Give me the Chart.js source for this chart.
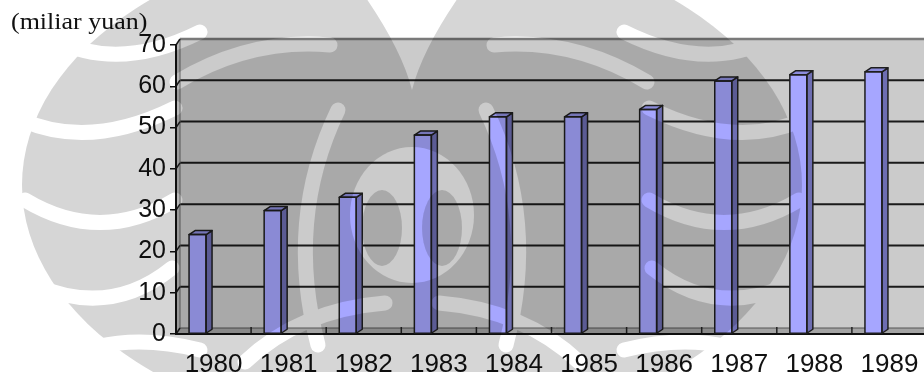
<!DOCTYPE html>
<html>
<head>
<meta charset="utf-8">
<script src="https://cdn.jsdelivr.net/npm/chart.js@4/dist/chart.umd.min.js"></script>
<style>
html,body{margin:0;padding:0;background:#fff;overflow:hidden;}
#wrap{position:relative;width:930px;height:372px;}
</style>
</head>
<body>
<div id="wrap"><canvas id="c"></canvas></div>
<script>
// ---- data ----
const years = ['1980','1981','1982','1983','1984','1985','1986','1987','1988','1989'];
const values = [24.1, 29.9, 33.1, 48.2, 52.6, 52.6, 54.4, 61.3, 62.8, 63.5];
const yTicks = [0, 10, 20, 30, 40, 50, 60, 70];
const unitLabel = '(miliar yuan)';
const spacer = years.map(() => null);

// ---- styling constants ----
const DX = 4, DY = -6;     // back-wall depth offset
const BDX = 6, BDY = -4;   // bar depth offset

function poly(ctx, pts){
  ctx.beginPath();
  ctx.moveTo(pts[0][0], pts[0][1]);
  for (let i = 1; i < pts.length; i++) ctx.lineTo(pts[i][0], pts[i][1]);
  ctx.closePath();
}
function line(ctx, x0, y0, x1, y1){
  ctx.beginPath(); ctx.moveTo(x0, y0); ctx.lineTo(x1, y1); ctx.stroke();
}

const wall3d = {
  id: 'wall3d',
  beforeDraw(chart){
    const {ctx, chartArea:{left:L, right:R, top:T, bottom:B}, scales:{x, y}} = chart;
    const RR = R + 6;
    ctx.save();
    ctx.fillStyle = '#cbcbcb';
    ctx.fillRect(L + DX, T + DY, RR - L - DX, B - T);
    ctx.fillStyle = '#b8b8b8';
    poly(ctx, [[L, T], [L + DX, T + DY], [L + DX, B + DY], [L, B]]); ctx.fill();
    ctx.fillStyle = '#a4a4a4';
    poly(ctx, [[L, B], [L + DX, B + DY], [RR, B + DY], [RR, B]]); ctx.fill();
    yTicks.forEach(v => {
      const py = y.getPixelForValue(v) + DY;
      if (v === yTicks[yTicks.length - 1]) { ctx.strokeStyle = '#7a7a7a'; ctx.lineWidth = 2.5; }
      else if (v === 0) { ctx.strokeStyle = '#555'; ctx.lineWidth = 1; }
      else { ctx.strokeStyle = '#1a1a1a'; ctx.lineWidth = 2; }
      line(ctx, L + DX, py, RR, py);
    });
    ctx.strokeStyle = '#666'; ctx.lineWidth = 1;
    line(ctx, L + DX, T + DY, L + DX, B + DY);
    ctx.strokeStyle = '#1a1a1a'; ctx.lineWidth = 1.5;
    yTicks.forEach(v => {
      const py = y.getPixelForValue(v);
      line(ctx, L, py, L + DX, py + DY);
    });
    ctx.strokeStyle = '#222'; ctx.lineWidth = 1.5;
    for (let i = 1; i < years.length; i++) {
      const bx = (x.getPixelForValue(i - 1) + x.getPixelForValue(i)) / 2;
      line(ctx, bx, B - 7, bx, B);
    }
    ctx.restore();
  },
  afterDatasetsDraw(chart){
    const {ctx} = chart;
    const meta = chart.getDatasetMeta(0);
    ctx.save();
    ctx.strokeStyle = '#1e1e1e';
    ctx.lineWidth = 1.5;
    ctx.lineJoin = 'round';
    meta.data.forEach(bar => {
      const p = bar.getProps(['x', 'y', 'base', 'width'], true);
      const l = p.x - p.width / 2, r = p.x + p.width / 2;
      ctx.fillStyle = '#6e6eb2';
      poly(ctx, [[r, p.y], [r + BDX, p.y + BDY], [r + BDX, p.base + BDY], [r, p.base]]);
      ctx.fill(); ctx.stroke();
      ctx.fillStyle = '#8c8cdc';
      poly(ctx, [[l, p.y], [l + BDX, p.y + BDY], [r + BDX, p.y + BDY], [r, p.y]]);
      ctx.fill(); ctx.stroke();
      ctx.strokeRect(l, p.y, p.width, p.base - p.y);
    });
    ctx.restore();
  },
  afterDraw(chart){
    const {ctx} = chart;
    ctx.save();
    ctx.fillStyle = '#111';
    ctx.font = '23px "Liberation Serif", "Times New Roman", serif';
    ctx.textBaseline = 'alphabetic';
    ctx.translate(11, 29);
    ctx.scale(1.13, 1);
    ctx.fillText(unitLabel, 0, 0);
    ctx.restore();
    // faded emblem watermark
    const wm = document.createElement('canvas');
    wm.width = chart.width; wm.height = chart.height;
    const g = wm.getContext('2d');
    const cx = 412;
    g.fillStyle = '#000';
    g.beginPath(); g.ellipse(cx, 185, 390, 250, 0, 0, Math.PI * 2); g.fill();
    g.globalCompositeOperation = 'destination-out';
    g.lineCap = 'round';
    g.lineWidth = 15;
    const curves = [
      [22, 120, 90, 150, 175, 108],
      [25, 200, 100, 245, 175, 200],
      [35, 285, 110, 318, 172, 268],
      [55, 40, 120, 72, 200, 32],
      [177, 82, 250, 38, 330, 45],
      [245, 362, 300, 310, 385, 303],
      [338, 110, 285, 220, 318, 345],
      [60, 360, 120, 330, 200, 350]
    ];
    curves.forEach(c => {
      g.beginPath(); g.moveTo(c[0], c[1]); g.quadraticCurveTo(c[2], c[3], c[4], c[5]); g.stroke();
      g.beginPath(); g.moveTo(2 * cx - c[0], c[1]); g.quadraticCurveTo(2 * cx - c[2], c[3], 2 * cx - c[4], c[5]); g.stroke();
    });
    g.beginPath();
    g.moveTo(cx - 48, -5); g.quadraticCurveTo(cx - 10, 50, cx, 90);
    g.quadraticCurveTo(cx + 10, 50, cx + 48, -5); g.closePath(); g.fill();
    g.beginPath(); g.ellipse(cx, 215, 62, 68, 0, 0, Math.PI * 2); g.fill();
    g.globalCompositeOperation = 'source-over';
    g.beginPath(); g.ellipse(cx - 30, 228, 20, 38, 0, 0, Math.PI * 2); g.fill();
    g.beginPath(); g.ellipse(cx + 30, 228, 20, 38, 0, 0, Math.PI * 2); g.fill();
    ctx.save();
    ctx.globalAlpha = 0.16;
    ctx.drawImage(wm, 0, 0);
    ctx.restore();
  }
};

new Chart(document.getElementById('c'), {
  type: 'bar',
  data: {
    labels: years,
    datasets: [
      { data: values, backgroundColor: '#a6a6ff', borderWidth: 0,
        categoryPercentage: 0.852, barPercentage: 0.531 },
      { data: spacer, backgroundColor: 'rgba(0,0,0,0)', borderWidth: 0,
        categoryPercentage: 0.852, barPercentage: 0.531 }
    ]
  },
  options: {
    responsive: true,
    maintainAspectRatio: false,
    animation: false,
    devicePixelRatio: 1,
    layout: { padding: { top: 45, right: 3, bottom: 0, left: 0 } },
    plugins: { legend: { display: false }, tooltip: { enabled: false }, title: { display: false } },
    scales: {
      x: {
        offset: true,
        grid: { display: false },
        border: { display: true, color: '#111', width: 2 },
        ticks: { color: '#111', font: { family: '"Liberation Sans", Arial, sans-serif', size: 26 }, padding: 7, maxRotation: 0, autoSkip: false },
        afterFit(s){ s.height = 38; }
      },
      y: {
        min: yTicks[0], max: yTicks[yTicks.length - 1],
        afterBuildTicks(s){ s.ticks = yTicks.map(v => ({ value: v })); },
        grid: { drawOnChartArea: false, drawTicks: true, tickLength: 6, color: '#111', lineWidth: 1.5 },
        border: { display: true, color: '#111', width: 2 },
        ticks: { color: '#111', font: { family: '"Liberation Sans", Arial, sans-serif', size: 25 }, padding: 4 },
        afterFit(s){ s.width = 176; }
      }
    }
  },
  plugins: [wall3d]
});
</script>
</body>
</html>
